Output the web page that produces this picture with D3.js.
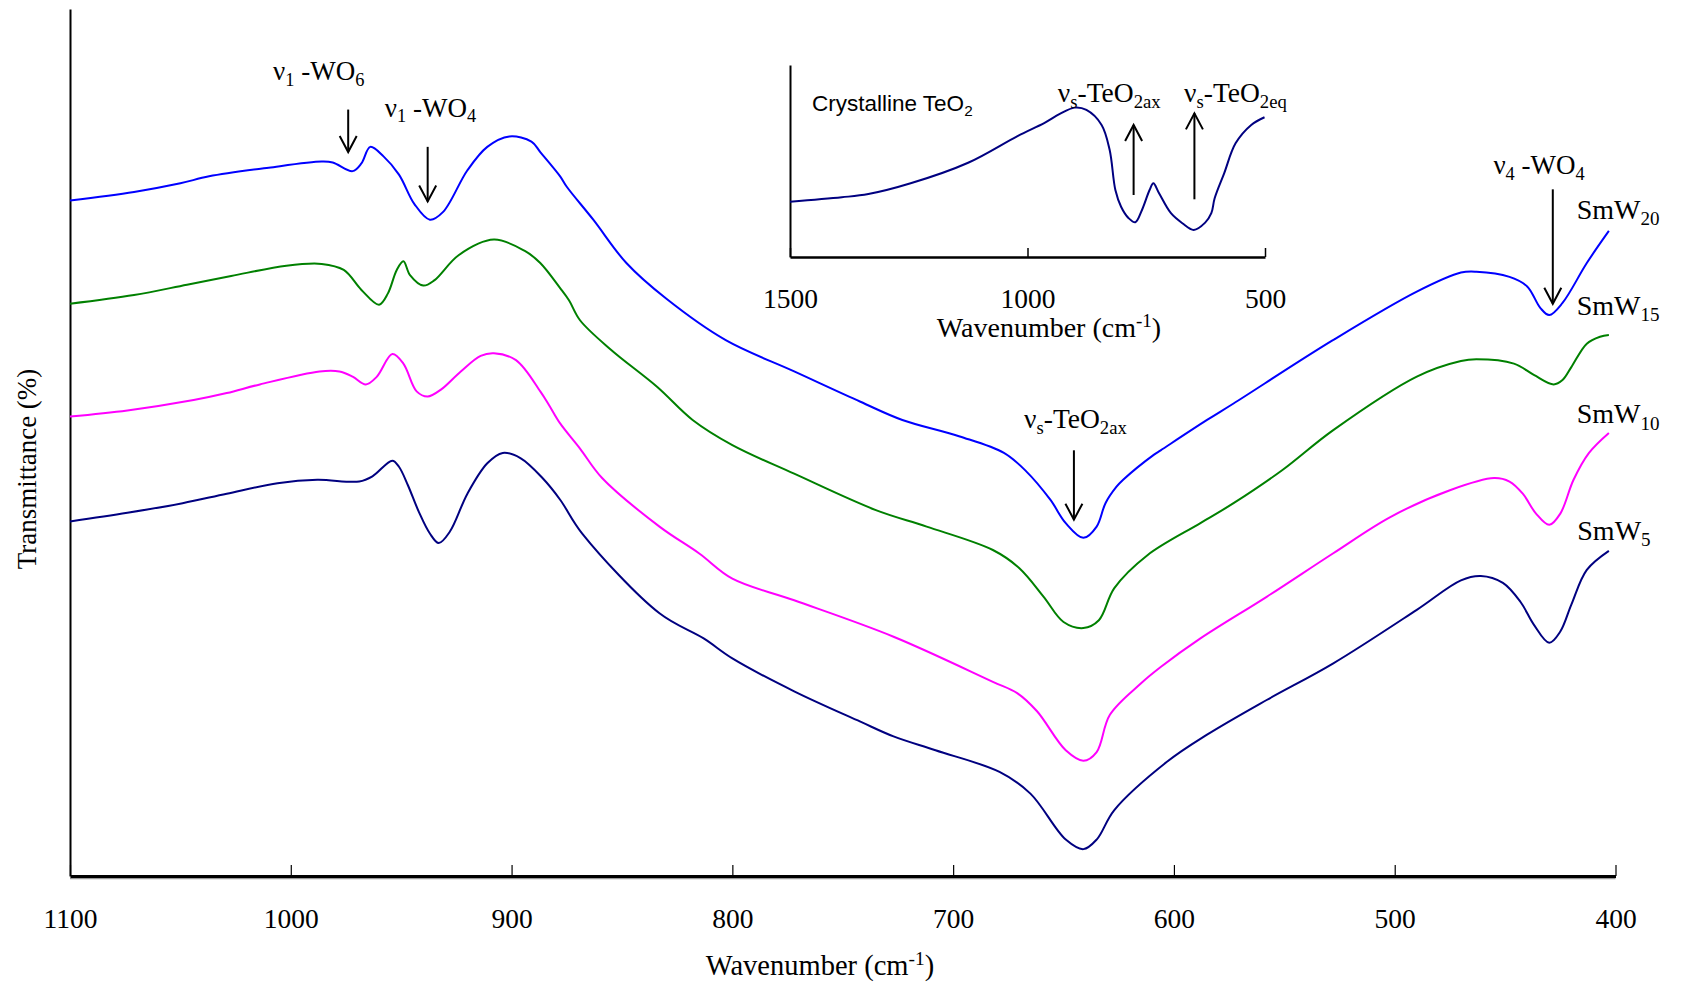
<!DOCTYPE html>
<html>
<head>
<meta charset="utf-8">
<script src="https://cdn.jsdelivr.net/npm/d3@7"></script>
<style>
  body { margin: 0; background: #fff; }
  svg { display: block; }
  text { font-family: "Liberation Serif", "Times New Roman", serif; fill: #000; }
</style>
</head>
<body>
<div id="chart"></div>
<script>
// FTIR spectra, [wavenumber, transmittance (arb.)]
var smw20 = [[1100,77.9],[1071,78.9],[1050,79.9],[1037,80.7],[1010,81.7],[986,82.4],[981,82.3],[972,81.3],[968,82.2],[964,84.1],[958,83.0],[951,80.9],[944,77.5],[937,75.7],[931,76.6],[920,81.4],[911,84.1],[901,85.3],[891,84.7],[887,83.5],[878,80.7],[875,79.5],[863,75.7],[848,70.7],[830,66.6],[803,61.8],[772,58.2],[742,54.7],[723,52.6],[697,50.7],[677,48.8],[667,46.7],[656,43.4],[649,40.7],[641,39.0],[635,40.3],[631,43.0],[626,44.9],[623,45.7],[609,48.6],[606,49.1],[585,52.6],[573,54.5],[528,61.8],[490,67.4],[470,69.6],[463,69.7],[448,69.1],[440,68.0],[434,65.5],[430,64.7],[424,66.1],[413,70.7],[403,74.4]];
var smw15 = [[1100,66.0],[1071,67.0],[1047,68.2],[1027,69.2],[1002,70.4],[986,70.6],[976,69.9],[968,67.6],[960,65.9],[956,67.2],[952,69.9],[949,70.9],[946,69.3],[940,68.1],[935,68.7],[924,71.6],[908,73.4],[894,72.1],[887,70.7],[878,67.8],[874,66.4],[869,64.1],[855,60.7],[834,56.4],[818,52.6],[800,49.7],[772,46.4],[735,42.2],[712,40.3],[682,37.6],[670,35.5],[659,32.2],[650,29.3],[641,28.6],[634,29.5],[627,33.2],[612,37.0],[588,40.7],[573,43.0],[551,46.8],[528,51.4],[490,57.6],[470,59.4],[463,59.6],[446,59.1],[437,57.8],[428,56.7],[424,57.2],[420,58.7],[413,61.4],[407,62.2],[403,62.4]];
var smw10 = [[1100,53.0],[1074,53.7],[1044,54.9],[1029,55.7],[1014,56.7],[987,58.2],[978,58.2],[972,57.6],[966,56.7],[961,57.6],[954,60.2],[949,59.1],[943,55.9],[938,55.3],[932,56.1],[923,58.2],[914,60.0],[908,60.3],[898,59.5],[887,55.9],[883,54.3],[878,52.2],[869,49.3],[859,45.9],[833,40.3],[815,37.2],[800,34.3],[772,31.8],[727,27.6],[682,22.4],[671,21.1],[662,19.0],[649,14.5],[641,13.3],[635,14.3],[629,18.6],[615,22.2],[606,24.1],[588,27.4],[558,32.2],[528,37.2],[502,41.4],[475,44.5],[455,45.9],[448,45.5],[442,44.1],[436,41.8],[430,40.5],[425,41.8],[419,45.7],[412,48.8],[403,51.1]];
var smw5 = [[1100,40.9],[1074,41.9],[1049,43.0],[1029,44.1],[1006,45.3],[988,45.7],[969,45.5],[963,46.1],[954,47.9],[951,47.2],[947,45.1],[942,42.0],[937,39.5],[933,38.4],[928,39.7],[920,44.1],[911,47.6],[904,48.8],[896,48.2],[886,45.9],[878,43.4],[868,39.5],[833,30.3],[813,27.4],[800,25.1],[772,21.3],[742,17.8],[727,16.1],[708,14.5],[679,12.0],[665,9.5],[649,4.2],[641,3.1],[635,4.2],[627,7.6],[603,13.2],[585,16.3],[558,20.3],[528,24.5],[490,30.7],[470,34.1],[461,34.6],[451,33.8],[443,31.6],[437,29.0],[430,26.9],[425,28.2],[420,31.3],[413,35.3],[403,37.5]];
var teo2 = [[1500,28.8],[1391,31.1],[1335,32.8],[1246,38.4],[1125,49.1],[1021,63.0],[964,69.9],[932,74.5],[901,77.8],[876,76.6],[844,68.8],[827,55.7],[815,34.9],[803,26.2],[787,20.2],[773,18.1],[759,24.5],[743,34.9],[735,38.4],[723,33.2],[698,22.8],[674,17.6],[650,14.1],[626,17.9],[613,22.8],[606,30.6],[586,43.6],[562,59.2],[529,68.8],[501,72.8]];

var seriesNames = ['20', '15', '10', '5'];
var seriesColors = ['#0000ff', '#008000', '#ff00ff', '#000080'];
var seriesData = [smw20, smw15, smw10, smw5];
var labelPos = [[417.6,75.8],[417.6,64.7],[417.6,52.2],[417.3,38.8]];

var mainTicks = [1100, 1000, 900, 800, 700, 600, 500, 400];
var insetTicks = [1500, 1000, 500];

var W = 1681, H = 985;
var svg = d3.select('#chart').append('svg').attr('width', W).attr('height', H);

var x = d3.scaleLinear().domain([1100, 400]).range([70, 1615.5]);
var y = d3.scaleLinear().domain([0, 100]).range([876, 9]);
var xi = d3.scaleLinear().domain([1500, 500]).range([790, 1265]);
var yi = d3.scaleLinear().domain([0, 100]).range([257, 65]);

// main axes
svg.append('g').attr('transform', 'translate(70,0)')
  .call(d3.axisLeft(y).ticks(0).tickSizeOuter(0))
  .select('.domain').attr('stroke-width', 2);

svg.append('line').attr('x1', 70).attr('x2', 1615.5).attr('y1', 878.5).attr('y2', 878.5)
  .attr('stroke', '#999').attr('stroke-width', 1.5);

var xa = svg.append('g').attr('transform', 'translate(0,876)')
  .call(d3.axisBottom(x).tickValues(mainTicks).tickSize(-11).tickSizeOuter(0).tickPadding(32).tickFormat(d3.format('d')));
xa.select('.domain').attr('stroke-width', 3);
xa.selectAll('.tick line').attr('stroke-width', 1.2);
xa.selectAll('.tick text').style('font-family', '"Liberation Serif", serif').style('font-size', '27.5px');

function lbl(g, parts, opts) {
  // parts: [text, 'n'|'sub'|'sup']
  var t = g.append('text').attr('x', opts.x).attr('y', opts.y)
    .style('font-size', opts.size + 'px')
    .attr('text-anchor', opts.anchor || 'start');
  if (opts.transform) t.attr('transform', opts.transform);
  if (opts.family) t.style('font-family', opts.family);
  var shift = 0;
  parts.forEach(function(p) {
    var s = t.append('tspan').text(p[0]);
    var target = p[1] === 'sub' ? opts.size * 0.22 : p[1] === 'sup' ? -opts.size * 0.36 : 0;
    if (target !== shift) s.attr('dy', target - shift);
    shift = target;
    if (p[1] !== 'n') s.style('font-size', (opts.size * 0.68) + 'px');
  });
  return t;
}

lbl(svg, [['Wavenumber (cm', 'n'], ['-1', 'sup'], [')', 'n']], {x: 820, y: 975, size: 28.5, anchor: 'middle'});
lbl(svg, [['Transmittance (%)', 'n']], {x: 0, y: 0, size: 27, anchor: 'middle', transform: 'translate(36,469) rotate(-90)'});

// spectra
var line = d3.line().x(function(d) { return x(d[0]); }).y(function(d) { return y(d[1]); })
  .curve(d3.curveCatmullRom.alpha(0.5));

svg.append('g').selectAll('path').data(seriesData).enter().append('path')
  .attr('d', line).attr('fill', 'none')
  .attr('stroke', function(d, i) { return seriesColors[i]; })
  .attr('stroke-width', 2);

seriesNames.forEach(function(n, i) {
  lbl(svg, [['SmW', 'n'], [n, 'sub']], {x: x(labelPos[i][0]), y: y(labelPos[i][1]), size: 28});
});

function arrow(g, x1, y1, x2, y2) {
  g.append('line').attr('x1', x1).attr('y1', y1).attr('x2', x2).attr('y2', y2)
    .attr('stroke', '#000').attr('stroke-width', 2);
  var dir = y2 > y1 ? -1 : 1;
  g.append('path')
    .attr('d', 'M' + (x2 - 8.5) + ',' + (y2 + dir * 16) + 'L' + x2 + ',' + y2 + 'L' + (x2 + 8.5) + ',' + (y2 + dir * 16))
    .attr('fill', 'none').attr('stroke', '#000').attr('stroke-width', 2);
}

// band annotations
arrow(svg, x(974), y(88.4), x(974), y(83.5));
lbl(svg, [['\u03bd', 'n'], ['1', 'sub'], [' -WO', 'n'], ['6', 'sub']], {x: x(1008), y: y(91.8), size: 27});
arrow(svg, x(938), y(84.1), x(938), y(77.8));
lbl(svg, [['\u03bd', 'n'], ['1', 'sub'], [' -WO', 'n'], ['4', 'sub']], {x: x(957.4), y: y(87.6), size: 27});
arrow(svg, x(645.3), y(49.1), x(645.3), y(41.1));
lbl(svg, [['\u03bd', 'n'], ['s', 'sub'], ['-TeO', 'n'], ['2ax', 'sub']], {x: x(667.9), y: y(51.7), size: 27.5});
arrow(svg, x(428.4), y(79.2), x(428.4), y(66.0));
lbl(svg, [['\u03bd', 'n'], ['4', 'sub'], [' -WO', 'n'], ['4', 'sub']], {x: x(455.3), y: y(81.0), size: 27});

// inset: crystalline TeO2
var inset = svg.append('g');
inset.append('g').attr('transform', 'translate(790,0)')
  .call(d3.axisLeft(yi).ticks(0).tickSizeOuter(0))
  .select('.domain').attr('stroke-width', 2);
var ia = inset.append('g').attr('transform', 'translate(0,257)')
  .call(d3.axisBottom(xi).tickValues(insetTicks).tickSize(-9).tickSizeOuter(0).tickPadding(31).tickFormat(d3.format('d')));
ia.select('.domain').attr('stroke-width', 2.5);
ia.selectAll('.tick line').attr('stroke-width', 1.5);
ia.selectAll('.tick text').style('font-family', '"Liberation Serif", serif').style('font-size', '27.5px');

var iline = d3.line().x(function(d) { return xi(d[0]); }).y(function(d) { return yi(d[1]); })
  .curve(d3.curveCatmullRom.alpha(0.5));
inset.append('path').datum(teo2).attr('d', iline).attr('fill', 'none')
  .attr('stroke', '#000080').attr('stroke-width', 2);

lbl(inset, [['Wavenumber (cm', 'n'], ['-1', 'sup'], [')', 'n']], {x: 1049, y: 337, size: 28, anchor: 'middle'});
lbl(inset, [['Crystalline TeO', 'n'], ['2', 'sub']], {x: xi(1453.7), y: yi(76.2), size: 22.5, family: '"Liberation Sans", Arial, sans-serif'});
arrow(inset, xi(776.6), yi(32.3), xi(776.6), yi(68.75));
arrow(inset, xi(648.6), yi(30.05), xi(648.6), yi(74.8));
lbl(inset, [['\u03bd', 'n'], ['s', 'sub'], ['-TeO', 'n'], ['2ax', 'sub']], {x: xi(936.2), y: yi(80.9), size: 27.5});
lbl(inset, [['\u03bd', 'n'], ['s', 'sub'], ['-TeO', 'n'], ['2eq', 'sub']], {x: xi(670.5), y: yi(80.9), size: 27.5});
</script>
</body>
</html>
